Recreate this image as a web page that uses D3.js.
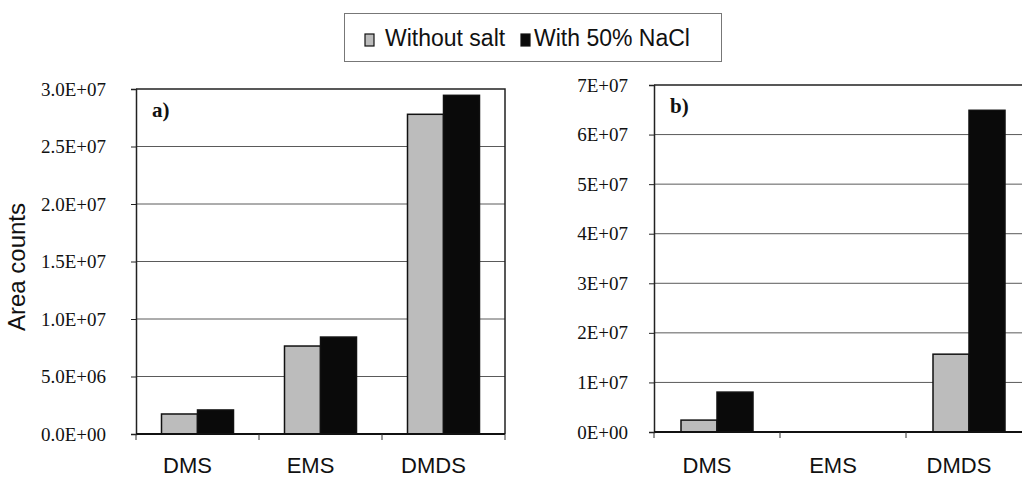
<!DOCTYPE html>
<html>
<head>
<meta charset="utf-8">
<script src="https://d3js.org/d3.v7.min.js"></script>
<style>
    body { margin: 0; background: #fff; }
    svg { display: block; }
    .tick-label { font-family: "Liberation Serif", "Times New Roman", serif; font-size: 19px; fill: #111; }
    .cat-label { font-family: "Liberation Sans", Arial, sans-serif; font-size: 22px; fill: #111; }
    .panel-tag { font-family: "Liberation Serif", "Times New Roman", serif; font-size: 21px; font-weight: bold; fill: #111; }
    .legend-text { font-family: "Liberation Sans", Arial, sans-serif; font-size: 23px; fill: #111; }
    .axis-title { font-family: "Liberation Sans", Arial, sans-serif; font-size: 24px; fill: #111; }
</style>
</head>
<body>
<div id="chart"></div>
<script>
const categories = ["DMS", "EMS", "DMDS"];
const seriesNames = ["Without salt", "With 50% NaCl"];
const seriesColors = ["#bcbcbc", "#0a0a0a"];

// panel a)
const withoutSaltA = [1.74e6, 7.65e6, 2.78e7];
const withNaClA = [2.09e6, 8.43e6, 2.945e7];
const ticksA = [0, 5e6, 1e7, 1.5e7, 2e7, 2.5e7, 3e7];

// panel b)
const withoutSaltB = [2.4e6, 0, 1.57e7];
const withNaClB = [8.05e6, 0, 6.49e7];
const ticksB = [0, 1e7, 2e7, 3e7, 4e7, 5e7, 6e7, 7e7];

// excel-ish scientific labels, e.g. 2.5E+07
function sciFormat(digits) {
    return d => {
        if (d === 0) return (digits ? (0).toFixed(digits) : "0") + "E+00";
        let exp = Math.floor(Math.log10(Math.abs(d)));
        let mant = d / Math.pow(10, exp);
        let sign = exp < 0 ? "-" : "+";
        return mant.toFixed(digits) + "E" + sign + String(Math.abs(exp)).padStart(2, "0");
    };
}

const svg = d3.select("#chart")
    .append("svg")
    .attr("width", 1022)
    .attr("height", 479);

class BarPanel {
    constructor(_svg, _series, _ticks, _config) {
        this.svg = _svg;
        this.series = _series;
        this.ticks = _ticks;
        this.config = _config;
        this.initVis();
    }

    initVis() {
        let vis = this;
        let { left, top, bottom, band, groupPad, tag, digits, labelGap } = vis.config;
        let right = left + band * categories.length;

        vis.g = vis.svg.append("g");

        vis.x = d3.scaleBand()
            .domain(categories)
            .range([left, right])
            .paddingInner(0);

        vis.xInner = d3.scaleBand()
            .domain(d3.range(vis.series.length))
            .range([groupPad, band - groupPad]);

        vis.y = d3.scaleLinear()
            .domain([0, d3.max(vis.ticks)])
            .range([bottom, top]);

        // gridlines
        vis.g.append("g")
            .selectAll("line")
            .data(vis.ticks.filter(t => t > 0 && t < d3.max(vis.ticks)))
            .join("line")
            .attr("x1", left)
            .attr("x2", right)
            .attr("y1", d => vis.y(d))
            .attr("y2", d => vis.y(d))
            .attr("stroke", "#5a5a5a")
            .attr("stroke-width", 1);

        // frame top / right
        vis.g.append("path")
            .attr("d", `M${left},${top}H${right}V${bottom}`)
            .attr("fill", "none")
            .attr("stroke", "#222")
            .attr("stroke-width", 1.5);

        // bars
        let rows = categories.map((c, i) => vis.series.map((s, j) => ({ cat: c, idx: j, value: s[i] })));
        vis.g.append("g")
            .selectAll("rect")
            .data(rows.flat().filter(d => d.value > 0))
            .join("rect")
            .attr("x", d => vis.x(d.cat) + vis.xInner(d.idx))
            .attr("y", d => vis.y(d.value))
            .attr("width", vis.xInner.bandwidth())
            .attr("height", d => vis.y(0) - vis.y(d.value))
            .attr("fill", d => seriesColors[d.idx])
            .attr("stroke", "#111")
            .attr("stroke-width", 1.5);

        // y axis
        let yAxis = vis.g.append("g")
            .attr("transform", `translate(${left},0)`)
            .call(d3.axisLeft(vis.y).tickValues(vis.ticks).tickSize(5).tickPadding(labelGap).tickFormat(sciFormat(digits)));
        yAxis.select(".domain").attr("stroke", "#222").attr("stroke-width", 1.5);
        yAxis.selectAll(".tick line").attr("stroke", "#222");
        yAxis.selectAll(".tick text").attr("class", "tick-label").attr("font-family", null).attr("font-size", null);

        // x axis
        vis.g.append("line")
            .attr("x1", left)
            .attr("x2", right)
            .attr("y1", bottom)
            .attr("y2", bottom)
            .attr("stroke", "#111")
            .attr("stroke-width", 2);

        vis.g.append("g")
            .selectAll("line")
            .data(d3.range(categories.length + 1))
            .join("line")
            .attr("x1", i => left + i * band)
            .attr("x2", i => left + i * band)
            .attr("y1", bottom)
            .attr("y2", bottom + 6)
            .attr("stroke", "#333");

        vis.g.append("g")
            .selectAll("text")
            .data(categories)
            .join("text")
            .attr("class", "cat-label")
            .attr("x", d => vis.x(d) + band / 2 - 10)
            .attr("y", 473)
            .attr("text-anchor", "middle")
            .text(d => d);

        vis.g.append("text")
            .attr("class", "panel-tag")
            .attr("x", left + 16)
            .attr("y", top + 28)
            .text(tag);
    }
}

new BarPanel(svg, [withoutSaltA, withNaClA], ticksA, {
    left: 136, top: 89, bottom: 434, band: 123, groupPad: 25.5,
    tag: "a)", digits: 1, labelGap: 25
});

new BarPanel(svg, [withoutSaltB, withNaClB], ticksB, {
    left: 654, top: 85, bottom: 432, band: 126, groupPad: 27,
    tag: "b)", digits: 0, labelGap: 21
});

// y axis title
svg.append("text")
    .attr("class", "axis-title")
    .attr("text-anchor", "middle")
    .attr("transform", "translate(25,267) rotate(-90)")
    .text("Area counts");

// legend
const legend = svg.append("g");
legend.append("rect")
    .attr("x", 344.5)
    .attr("y", 13.5)
    .attr("width", 377)
    .attr("height", 48)
    .attr("fill", "#fff")
    .attr("stroke", "#777")
    .attr("stroke-width", 1);

const legendX = [365, 521];
const legendItems = legend.selectAll("g")
    .data(seriesNames)
    .join("g")
    .attr("transform", (d, i) => `translate(${legendX[i]},0)`);

legendItems.append("rect")
    .attr("x", 0)
    .attr("y", 34)
    .attr("width", 9)
    .attr("height", 12)
    .attr("fill", (d, i) => seriesColors[i])
    .attr("stroke", "#111")
    .attr("stroke-width", 1.2);

legendItems.append("text")
    .attr("class", "legend-text")
    .attr("x", (d, i) => i === 0 ? 20 : 13)
    .attr("y", 46)
    .text(d => d);
</script>
</body>
</html>
